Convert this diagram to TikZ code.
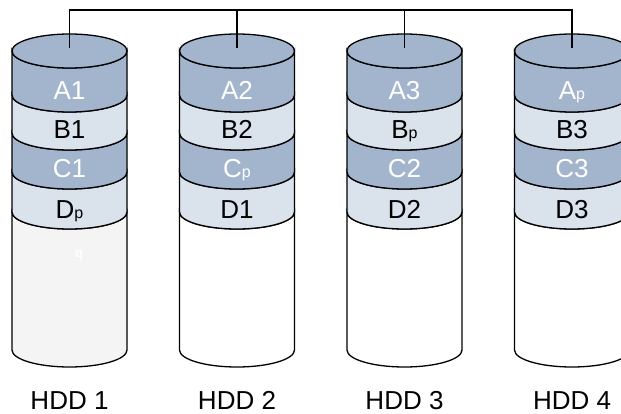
\documentclass[tikz,border=0pt]{standalone}
\usepackage{fontspec}
\setmainfont{Liberation Sans}
\definecolor{bandDark}{HTML}{A3B5CD}
\definecolor{bandLight}{HTML}{DAE2EC}
\definecolor{diskGray}{HTML}{F4F4F4}
\newcommand{\sbp}{{\fontsize{16}{16}\selectfont p}}
% one stripe of a disk: centre x, top y, bottom y, fill
\newcommand{\band}[4]{%
  \path[draw,fill=#4] (#1-57.5,#2) -- (#1-57.5,#3) arc[start angle=180,end angle=360,x radius=57.5,y radius=17]
    -- (#1+57.5,#2) arc[start angle=0,end angle=-180,x radius=57.5,y radius=17] -- cycle;}

\begin{document}
\begin{tikzpicture}[x=1pt,y=1pt,line width=1.3pt,
    darklbl/.style={anchor=base,inner sep=0pt,text=white,font=\fontsize{26}{26}\selectfont},
    lightlbl/.style={anchor=base,inner sep=0pt,text=black,font=\fontsize{26}{26}\selectfont},
    hddlbl/.style={anchor=base,inner sep=0pt,font=\fontsize{26}{26}\selectfont}]
    \useasboundingbox (0,0) rectangle (621,-414);
    % Disks
    \foreach \i/\cx/\la/\lb/\lc/\ld/\bfill in {1/69.5/A1/B1/C1/D\sbp/diskGray, 2/237/A2/B2/C\sbp/D1/white,
        3/404.5/A3/B\sbp/C2/D2/white, 4/572/A\sbp/B3/C3/D3/white}{
        \band{\cx}{-212}{-350}{\bfill}
        \band{\cx}{-172}{-212}{bandLight}
        \band{\cx}{-133}{-172}{bandDark}
        \band{\cx}{-95}{-133}{bandLight}
        \band{\cx}{-51}{-95}{bandDark}
        \draw[fill=bandDark] (\cx,-51) ellipse [x radius=57.5,y radius=17];
        \node[darklbl] (a\i) at (\cx,-99.5) {\la};
        \node[lightlbl] (b\i) at (\cx,-138.5) {\lb};
        \node[darklbl] (c\i) at (\cx,-178) {\lc};
        \node[lightlbl] (d\i) at (\cx,-218.5) {\ld};
        \node[hddlbl] (hdd\i) at (\cx,-409) {HDD \i};
        \coordinate (top\i) at (\cx,-48);
        \coordinate (bus\i) at (\cx,-10);
    }
    \node[text=white,font=\bfseries\fontsize{13}{13}\selectfont] (q1) at (79,-255) {q};

    % Bus
    \draw (top1) -- (bus1) -- (bus4) -- (top4);
    \draw (bus2) -- (top2);
    \draw (bus3) -- (top3);
\end{tikzpicture}
\end{document}
